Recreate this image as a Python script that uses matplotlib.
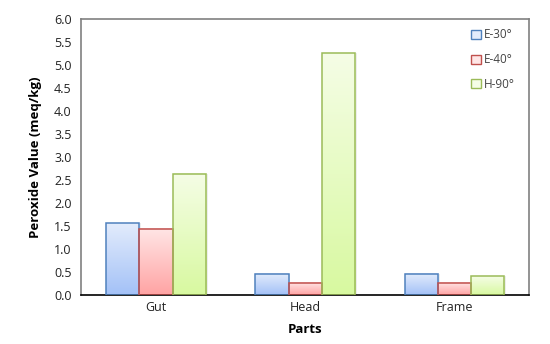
import numpy as np
import matplotlib.pyplot as plt
from matplotlib.colors import LinearSegmentedColormap
from matplotlib.patches import Rectangle

plt.rcParams['font.family'] = ['Open Sans', 'DejaVu Sans']

parts = ['Gut', 'Head', 'Frame']
e30 = [1.56, 0.47, 0.46]
e40 = [1.44, 0.27, 0.27]
h90 = [2.64, 5.25, 0.41]
series = ['E-30°', 'E-40°', 'H-90°']

# (top colour, bottom colour, edge colour)
styles = [('#e3ecfc', '#a3c1f7', '#4f81bd'),
          ('#ffe6e6', '#ffa3a3', '#c0504d'),
          ('#f5fde6', '#d8f9a0', '#9bbb59')]

fig, ax = plt.subplots(figsize=(5.5, 3.44), dpi=100)
fig.subplots_adjust(left=0.148, right=0.962, top=0.945, bottom=0.142)

x = np.arange(len(parts))
w = 0.223
grad = np.linspace(0, 1, 256).reshape(-1, 1)

handles = []
for i, vals in enumerate([e30, e40, h90]):
    top, bot, edge = styles[i]
    cmap = LinearSegmentedColormap.from_list('g%d' % i, [bot, top])
    pos = x + (i - 1) * w
    bars = ax.bar(pos, vals, w, facecolor='none', edgecolor=edge, linewidth=1.1, zorder=3)
    for b in bars:
        bx, by = b.get_x(), b.get_y()
        bw, bh = b.get_width(), b.get_height()
        # soft shadow
        ax.add_patch(Rectangle((bx + 0.012, by), bw, bh, facecolor='#000000', alpha=0.07,
                               edgecolor='none', zorder=1))
        ax.imshow(grad, extent=[bx, bx + bw, by, by + bh], origin='lower',
                  cmap=cmap, aspect='auto', zorder=2)
    handles.append(Rectangle((0, 0), 1, 1, facecolor=top, edgecolor=edge, linewidth=1))

ax.set_xlim(-0.5, 2.5)
ax.set_ylim(0, 6.0)
ax.set_yticks(np.arange(0, 6.01, 0.5))
ax.set_yticklabels(['%.1f' % v for v in np.arange(0, 6.01, 0.5)])
ax.set_xticks(x)
ax.set_xticklabels(parts)
ax.tick_params(axis='both', length=0, labelsize=9, pad=7, colors='#222222')
ax.tick_params(axis='x', pad=4)

for s in ['left', 'top', 'right']:
    ax.spines[s].set_color('#808080')
    ax.spines[s].set_linewidth(1.2)
ax.spines['bottom'].set_color('black')
ax.spines['bottom'].set_linewidth(1.2)

ax.set_ylabel('Peroxide Value (meq/kg)', fontsize=9.5, fontweight='bold', labelpad=9)
ax.set_xlabel('Parts', fontsize=9.5, fontweight='bold', labelpad=7)

leg = ax.legend(handles, series, loc='upper right', frameon=False, fontsize=8.5,
                handlelength=0.8, handleheight=0.8, handletextpad=0.3,
                labelspacing=1.0, borderaxespad=0.4, bbox_to_anchor=(0.99, 1.0))
for t in leg.get_texts():
    t.set_color('#444444')

plt.savefig('out.png', dpi=100)
